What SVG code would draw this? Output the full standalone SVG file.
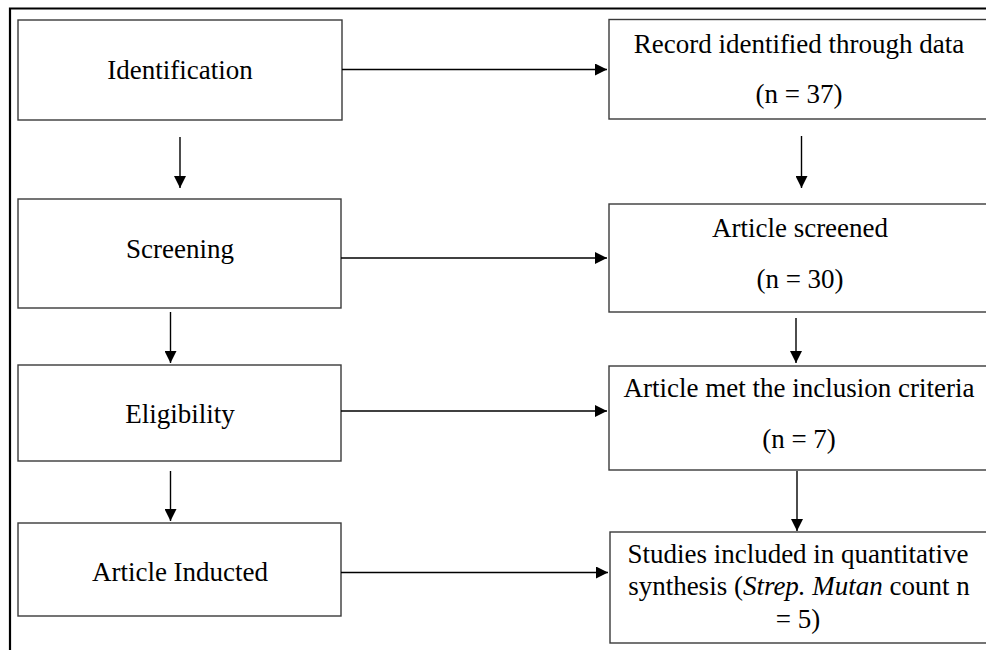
<svg xmlns="http://www.w3.org/2000/svg" width="986" height="650" viewBox="0 0 986 650">
<style>
.box{fill:#fff;stroke:#3a3a3a;stroke-width:1.4}
.t{font-family:"Liberation Serif","Times New Roman",serif;font-size:27px;fill:#000;text-anchor:middle}
.c{stroke:#000;stroke-width:1.4;fill:none}
.frame{stroke:#000;stroke-width:2.2;fill:none}
</style>
<defs>
<marker id="ah" markerWidth="12" markerHeight="12" refX="12" refY="6" orient="auto" markerUnits="userSpaceOnUse">
<path d="M0,0 L12,6 L0,12 Z" fill="#000"/>
</marker>
</defs>
<rect width="986" height="650" fill="#fff"/>
<path class="frame" d="M10,650 L10,8.5 L990,8.5"/>
<g id="identification">
<rect class="box" x="18" y="20" width="324" height="100"/>
<text class="t" x="180" y="79">Identification</text>
</g>
<g id="screening">
<rect class="box" x="18" y="199" width="323" height="109"/>
<text class="t" x="180" y="258">Screening</text>
</g>
<g id="eligibility">
<rect class="box" x="18" y="365" width="323" height="96"/>
<text class="t" x="180" y="423">Eligibility</text>
</g>
<g id="inducted">
<rect class="box" x="18" y="523" width="323" height="93"/>
<text class="t" x="180" y="581">Article Inducted</text>
</g>
<g id="record">
<rect class="box" x="609" y="19.5" width="381" height="99.5"/>
<text class="t" x="799" y="53">Record identified through data</text>
<text class="t" x="799" y="103">(n = 37)</text>
</g>
<g id="screened">
<rect class="box" x="609" y="204" width="381" height="108"/>
<text class="t" x="800" y="237">Article screened</text>
<text class="t" x="800" y="288">(n = 30)</text>
</g>
<g id="inclusion">
<rect class="box" x="609" y="366" width="381" height="104"/>
<text class="t" x="799" y="397">Article met the inclusion criteria</text>
<text class="t" x="799" y="448">(n = 7)</text>
</g>
<g id="studies">
<rect class="box" x="610" y="532" width="380" height="111"/>
<text class="t" x="798" y="563">Studies included in quantitative</text>
<text class="t" x="799" y="595">synthesis (<tspan font-style="italic">Strep. Mutan</tspan> count n</text>
<text class="t" x="798" y="628">= 5)</text>
</g>
<g id="connectors">
<line class="c" x1="342" y1="69.5" x2="607" y2="69.5" marker-end="url(#ah)"/>
<line class="c" x1="341" y1="258" x2="607" y2="258" marker-end="url(#ah)"/>
<line class="c" x1="341" y1="411" x2="607" y2="411" marker-end="url(#ah)"/>
<line class="c" x1="341" y1="572.5" x2="608" y2="572.5" marker-end="url(#ah)"/>
<line class="c" x1="180" y1="137" x2="180" y2="188" marker-end="url(#ah)"/>
<line class="c" x1="170.5" y1="312" x2="170.5" y2="363" marker-end="url(#ah)"/>
<line class="c" x1="170.5" y1="471" x2="170.5" y2="521" marker-end="url(#ah)"/>
<line class="c" x1="801.5" y1="136" x2="801.5" y2="188" marker-end="url(#ah)"/>
<line class="c" x1="796" y1="318" x2="796" y2="363" marker-end="url(#ah)"/>
<line class="c" x1="797" y1="471" x2="797" y2="531" marker-end="url(#ah)"/>
</g>
</svg>
